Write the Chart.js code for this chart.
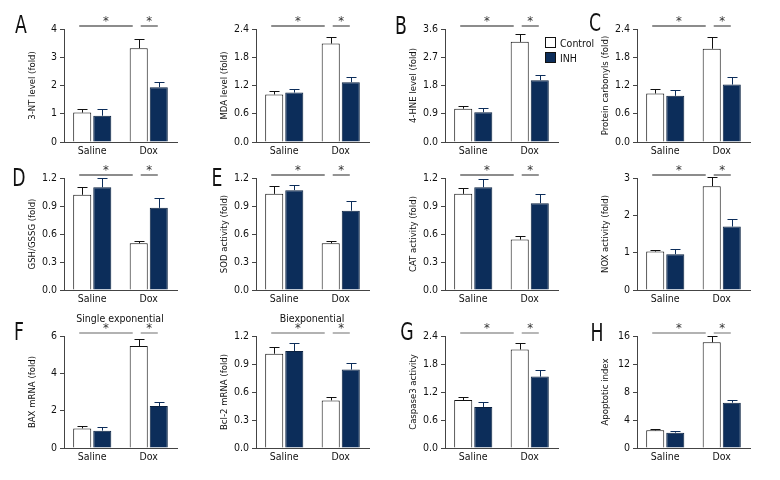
<!DOCTYPE html>
<html>
<head>
<meta charset="utf-8">
<script src="https://cdn.jsdelivr.net/npm/chart.js@4.4.1/dist/chart.umd.min.js"></script>
<style>
  html, body { margin: 0; padding: 0; background: #fff; }
  #fig { position: relative; width: 780px; height: 480px; background: #fff; overflow: hidden;
         font-family: 'DejaVu Sans Condensed', 'Liberation Sans Narrow', sans-serif; color: #111; }
  #fig canvas { position: absolute; }
  .letter { position: absolute; font-size: 24px; line-height: 24px; transform: translate(-50%, -50%) scaleX(0.8); }
  .sub { position: absolute; font-size: 10.5px; line-height: 12px; transform: translate(-50%, -50%); white-space: nowrap; }
  .leg { position: absolute; font-size: 10.5px; line-height: 12px; white-space: nowrap; }
  .leg span { display: inline-block; width: 9px; height: 9px; border: 1px solid #111; vertical-align: -1px; margin-right: 4px; }
</style>
</head>
<body>
<div id="fig"></div>
<script>
const categories = ['Saline', 'Dox'];
const seriesNames = ['Control', 'INH'];

// A - 3-NT
const ntControl = [1.04, 3.32];
const ntControlSem = [0.12, 0.33];
const ntInh = [0.93, 1.94];
const ntInhSem = [0.23, 0.18];
const ntTicks = ['0', '1', '2', '3', '4'];

// MDA
const mdaControl = [1.01, 2.09];
const mdaControlSem = [0.08, 0.15];
const mdaInh = [1.05, 1.27];
const mdaInhSem = [0.08, 0.12];
const mdaTicks = ['0.0', '0.6', '1.2', '1.8', '2.4'];

// B - 4-HNE
const hneControl = [1.06, 3.19];
const hneControlSem = [0.08, 0.24];
const hneInh = [0.95, 1.97];
const hneInhSem = [0.12, 0.16];
const hneTicks = ['0.0', '0.9', '1.8', '2.7', '3.6'];

// C - protein carbonyls
const pcControl = [1.03, 1.98];
const pcControlSem = [0.09, 0.26];
const pcInh = [0.98, 1.22];
const pcInhSem = [0.12, 0.16];
const pcTicks = ['0.0', '0.6', '1.2', '1.8', '2.4'];

// D - GSH/GSSG
const gshControl = [1.02, 0.50];
const gshControlSem = [0.08, 0.03];
const gshInh = [1.10, 0.88];
const gshInhSem = [0.10, 0.11];
const gshTicks = ['0.0', '0.3', '0.6', '0.9', '1.2'];

// E - SOD
const sodControl = [1.03, 0.50];
const sodControlSem = [0.08, 0.03];
const sodInh = [1.07, 0.85];
const sodInhSem = [0.05, 0.10];
const sodTicks = ['0.0', '0.3', '0.6', '0.9', '1.2'];

// CAT
const catControl = [1.03, 0.54];
const catControlSem = [0.06, 0.04];
const catInh = [1.10, 0.93];
const catInhSem = [0.09, 0.10];
const catTicks = ['0.0', '0.3', '0.6', '0.9', '1.2'];

// NOX
const noxControl = [1.03, 2.78];
const noxControlSem = [0.05, 0.24];
const noxInh = [0.96, 1.70];
const noxInhSem = [0.15, 0.19];
const noxTicks = ['0', '1', '2', '3'];

// F - BAX
const baxControl = [1.05, 5.46];
const baxControlSem = [0.11, 0.36];
const baxInh = [0.93, 2.25];
const baxInhSem = [0.21, 0.20];
const baxTicks = ['0', '2', '4', '6'];

// Bcl-2
const bclControl = [1.01, 0.51];
const bclControlSem = [0.07, 0.04];
const bclInh = [1.04, 0.84];
const bclInhSem = [0.09, 0.07];
const bclTicks = ['0.0', '0.3', '0.6', '0.9', '1.2'];

// G - caspase3
const caspControl = [1.03, 2.11];
const caspControlSem = [0.07, 0.14];
const caspInh = [0.88, 1.53];
const caspInhSem = [0.10, 0.14];
const caspTicks = ['0.0', '0.6', '1.2', '1.8', '2.4'];

// H - apoptotic index
const apoControl = [2.52, 15.1];
const apoControlSem = [0.15, 0.9];
const apoInh = [2.19, 6.47];
const apoInhSem = [0.20, 0.33];
const apoTicks = ['0', '4', '8', '12', '16'];

const NAVY = '#0c2d5a';
const FONT = "'DejaVu Sans Condensed', 'Liberation Sans Narrow', sans-serif";
const axisX = [64, 256, 445, 637];
const rowTop = [29, 178, 336];
const rowBottom = [142, 290, 448];

const panels = [
  { letter: 'A', title: '3-NT level (fold)', c: ntControl, cs: ntControlSem, h: ntInh, hs: ntInhSem, t: ntTicks, col: 0, row: 0 },
  { letter: '', title: 'MDA level (fold)', c: mdaControl, cs: mdaControlSem, h: mdaInh, hs: mdaInhSem, t: mdaTicks, col: 1, row: 0 },
  { letter: 'B', title: '4-HNE level (fold)', c: hneControl, cs: hneControlSem, h: hneInh, hs: hneInhSem, t: hneTicks, col: 2, row: 0 },
  { letter: 'C', title: 'Protein carbonyls (fold)', c: pcControl, cs: pcControlSem, h: pcInh, hs: pcInhSem, t: pcTicks, col: 3, row: 0 },
  { letter: 'D', title: 'GSH/GSSG (fold)', c: gshControl, cs: gshControlSem, h: gshInh, hs: gshInhSem, t: gshTicks, col: 0, row: 1 },
  { letter: 'E', title: 'SOD activity (fold)', c: sodControl, cs: sodControlSem, h: sodInh, hs: sodInhSem, t: sodTicks, col: 1, row: 1 },
  { letter: '', title: 'CAT activity (fold)', c: catControl, cs: catControlSem, h: catInh, hs: catInhSem, t: catTicks, col: 2, row: 1 },
  { letter: '', title: 'NOX activity (fold)', c: noxControl, cs: noxControlSem, h: noxInh, hs: noxInhSem, t: noxTicks, col: 3, row: 1 },
  { letter: 'F', title: 'BAX mRNA (fold)', c: baxControl, cs: baxControlSem, h: baxInh, hs: baxInhSem, t: baxTicks, col: 0, row: 2 },
  { letter: '', title: 'Bcl-2 mRNA (fold)', c: bclControl, cs: bclControlSem, h: bclInh, hs: bclInhSem, t: bclTicks, col: 1, row: 2 },
  { letter: 'G', title: 'Caspase3 activity', c: caspControl, cs: caspControlSem, h: caspInh, hs: caspInhSem, t: caspTicks, col: 2, row: 2 },
  { letter: 'H', title: 'Apoptotic index', c: apoControl, cs: apoControlSem, h: apoInh, hs: apoInhSem, t: apoTicks, col: 3, row: 2 },
];

// panel letters placed by hand
const letterPos = { A: [21, 25], B: [401, 26], C: [595, 23], D: [19, 178], E: [217, 178], F: [19, 332], G: [407, 332], H: [597, 333] };

// error bars + significance bars
const extras = {
  id: 'extras',
  afterDatasetsDraw(chart) {
    const { ctx, chartArea, scales: { y } } = chart;
    ctx.save();
    ctx.lineWidth = 1;
    chart.data.datasets.forEach((ds, i) => {
      chart.getDatasetMeta(i).data.forEach((bar, j) => {
        const x = Math.round(bar.x) + 0.5;
        const top = Math.round(y.getPixelForValue(ds.data[j] + ds.sem[j])) + 0.5;
        ctx.strokeStyle = i === 0 ? '#111' : NAVY;
        ctx.beginPath();
        ctx.moveTo(x, bar.y);
        ctx.lineTo(x, top);
        ctx.moveTo(x - 5, top);
        ctx.lineTo(x + 5, top);
        ctx.stroke();
      });
    });
    const c = chart.getDatasetMeta(0).data;
    const h = chart.getDatasetMeta(1).data;
    const ly = Math.round(chartArea.top - 3);
    const spans = [[c[0].x - 3, c[1].x - 6], [c[1].x + 2, h[1].x - 1]];
    ctx.strokeStyle = chart.options.plugins.extras.sigColor;
    ctx.lineWidth = 1.4;
    ctx.fillStyle = '#333';
    ctx.font = '13px ' + FONT;
    ctx.textAlign = 'center';
    ctx.textBaseline = 'alphabetic';
    spans.forEach(([a, b]) => {
      ctx.beginPath();
      ctx.moveTo(a, ly);
      ctx.lineTo(b, ly);
      ctx.stroke();
      ctx.fillText('*', (a + b) / 2, ly - 1);
    });
    ctx.restore();
  }
};

const fig = document.getElementById('fig');

panels.forEach(p => {
  const top = rowTop[p.row], bottom = rowBottom[p.row];
  const canvas = document.createElement('canvas');
  const W = 180, H = (bottom - top) + 26 + 22;
  canvas.width = W; canvas.height = H;
  canvas.style.width = W + 'px'; canvas.style.height = H + 'px';
  canvas.style.left = (axisX[p.col] - 62) + 'px';
  canvas.style.top = (top - 26) + 'px';
  fig.appendChild(canvas);

  const tickVals = p.t.map(Number);
  new Chart(canvas.getContext('2d'), {
    type: 'bar',
    data: {
      labels: categories,
      datasets: [
        { label: seriesNames[0], data: p.c, sem: p.cs, backgroundColor: '#fff', borderColor: '#111', borderWidth: 1,
          categoryPercentage: 0.71, barPercentage: 0.9 },
        { label: seriesNames[1], data: p.h, sem: p.hs, backgroundColor: NAVY, borderColor: '#0a2140', borderWidth: 1,
          categoryPercentage: 0.71, barPercentage: 0.9 }
      ]
    },
    options: {
      responsive: false,
      animation: false,
      layout: { autoPadding: false, padding: { top: 26, left: 0, right: W - 62 - 113, bottom: 0 } },
      plugins: { legend: { display: false }, tooltip: { enabled: false }, extras: { sigColor: p.row === 2 ? '#999' : '#666' } },
      scales: {
        x: {
          grid: { display: false, drawTicks: false, tickLength: 0 },
          border: { display: true, color: '#444', width: 1 },
          ticks: { color: '#111', padding: 3, font: { family: FONT, size: 10.5 } },
          afterFit: s => { s.height = 22; }
        },
        y: {
          min: tickVals[0],
          max: tickVals[tickVals.length - 1],
          afterBuildTicks: s => { s.ticks = tickVals.map(v => ({ value: v })); },
          grid: { display: true, drawOnChartArea: false, drawTicks: true, tickLength: 4, color: '#444' },
          border: { display: true, color: '#444', width: 1 },
          ticks: { color: '#111', padding: 3, font: { family: FONT, size: 10.5 },
                   callback: (v) => p.t[tickVals.indexOf(v)] },
          title: { display: true, text: p.title, color: '#111', font: { family: FONT, size: 9.5 }, padding: { top: 25, bottom: 0 } },
          afterFit: s => { s.width = 62; }
        }
      }
    },
    plugins: [extras]
  });

  if (p.letter) {
    const d = document.createElement('div');
    d.className = 'letter';
    d.textContent = p.letter;
    d.style.left = letterPos[p.letter][0] + 'px';
    d.style.top = letterPos[p.letter][1] + 'px';
    fig.appendChild(d);
  }
});

// subtitles over F panels
[['Single exponential', 120, 318], ['Biexponential', 312, 318]].forEach(([txt, x, y]) => {
  const d = document.createElement('div');
  d.className = 'sub';
  d.textContent = txt;
  d.style.left = x + 'px';
  d.style.top = y + 'px';
  fig.appendChild(d);
});

// legend in panel B
[[seriesNames[0], '#fff', 37], [seriesNames[1], NAVY, 52]].forEach(([txt, fill, y]) => {
  const d = document.createElement('div');
  d.className = 'leg';
  d.innerHTML = '<span style="background:' + fill + '"></span>' + txt;
  d.style.left = '545px';
  d.style.top = y + 'px';
  fig.appendChild(d);
});
</script>
</body>
</html>
